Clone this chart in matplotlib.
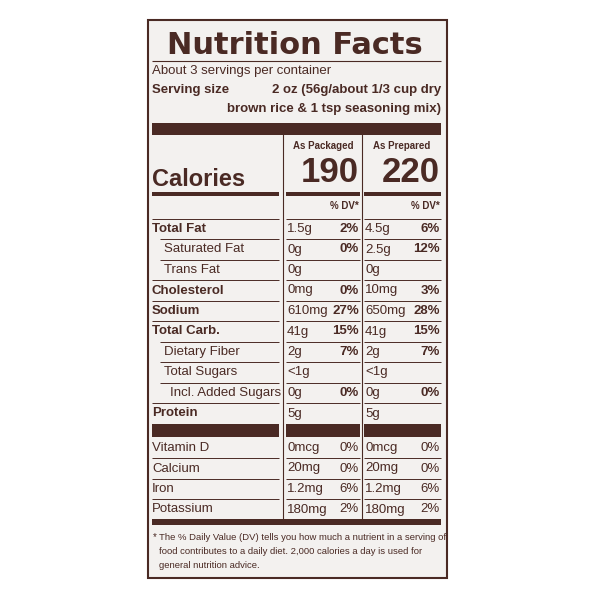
import matplotlib
matplotlib.use("Agg")
import matplotlib.pyplot as plt

BROWN = "#4a2a24"
BG = "#f3f1ef"
FONT = "Liberation Sans"

nutrients = ["Total Fat", "Saturated Fat", "Trans Fat", "Cholesterol", "Sodium", "Total Carb.",
             "Dietary Fiber", "Total Sugars", "Incl. Added Sugars", "Protein"]
bold_rows = [True, False, False, True, True, True, False, False, False, True]
indent = [0, 1, 1, 0, 0, 0, 1, 1, 2, 0]
pack_amt = ["1.5g", "0g", "0g", "0mg", "610mg", "41g", "2g", "<1g", "0g", "5g"]
pack_dv = ["2%", "0%", "", "0%", "27%", "15%", "7%", "", "0%", ""]
prep_amt = ["4.5g", "2.5g", "0g", "10mg", "650mg", "41g", "2g", "<1g", "0g", "5g"]
prep_dv = ["6%", "12%", "", "3%", "28%", "15%", "7%", "", "0%", ""]
vitamins = ["Vitamin D", "Calcium", "Iron", "Potassium"]
vit_pack_amt = ["0mcg", "20mg", "1.2mg", "180mg"]
vit_pack_dv = ["0%", "0%", "6%", "2%"]
vit_prep_amt = ["0mcg", "20mg", "1.2mg", "180mg"]
vit_prep_dv = ["0%", "0%", "6%", "2%"]
calories = ["190", "220"]

fig = plt.figure(figsize=(6, 6), dpi=100)
ax = fig.add_axes([0, 0, 1, 1])
ax.set_xlim(0, 600); ax.set_ylim(600, 0); ax.axis("off")
ax.add_patch(plt.Rectangle((148, 20), 299, 558, facecolor=BG, edgecolor=BROWN, lw=1.5))

def t(x, y, s, size=10, bold=False, ha="left", weight=None, **kw):
    ax.text(x, y, s, fontsize=size, fontweight=weight or ("bold" if bold else "normal"), ha=ha,
            va="center", color=BROWN, family=FONT, **kw)

def hl(y, x0, x1, lw=0.8):
    ax.plot([x0, x1], [y, y], color=BROWN, lw=lw, solid_capstyle="butt")

C1 = (152, 279); C2 = (286, 360); C3 = (364, 441)

ax.text(295, 45, "Nutrition Facts", fontsize=22, fontweight="heavy", ha="center", va="center",
        color=BROWN, family="DejaVu Sans")
hl(61, 152, 441, 0.8)
t(152, 71, "About 3 servings per container", 9.5)
t(152, 90, "Serving size", 9.5, True)
t(441, 90, "2 oz (56g/about 1/3 cup dry", 9.5, True, ha="right")
t(441, 109, "brown rice & 1 tsp seasoning mix)", 9.5, True, ha="right")
ax.add_patch(plt.Rectangle((152, 123), 289, 12, color=BROWN, lw=0))

for x in (283, 362):
    ax.plot([x, x], [135, 519], color=BROWN, lw=0.8)

t(323, 146, "As Packaged", 7, True, ha="center")
t(402, 146, "As Prepared", 7, True, ha="center")
t(152, 179, "Calories", 17, True)
t(359, 173, calories[0], 25, True, ha="right")
t(440, 173, calories[1], 25, True, ha="right")
for (a, b) in (C1, C2, C3):
    ax.add_patch(plt.Rectangle((a, 192), b - a, 4, color=BROWN, lw=0))
t(359, 206, "% DV*", 7, True, ha="right")
t(440, 206, "% DV*", 7, True, ha="right")

y0, dy = 229, 20.5
for i, name in enumerate(nutrients):
    y = y0 + i * dy
    for (a, b) in (C1, C2, C3):
        hl(y - dy / 2, a + (8 * min(indent[i], 1) if a == 152 else 0), b, 0.7)
    t(152 + 12 * indent[i] - (6 if indent[i] == 2 else 0), y, name, 9.5, bold_rows[i])
    t(287, y, pack_amt[i], 9.5)
    t(359, y, pack_dv[i], 9.5, True, ha="right")
    t(365, y, prep_amt[i], 9.5)
    t(440, y, prep_dv[i], 9.5, True, ha="right")

for (a, b) in (C1, C2, C3):
    ax.add_patch(plt.Rectangle((a, 424), b - a, 13, color=BROWN, lw=0))

for i, name in enumerate(vitamins):
    y = 448 + i * 20.5
    if i > 0:
        for (a, b) in (C1, C2, C3):
            hl(y - 10.25, a, b, 0.7)
    t(152, y, name, 9.5)
    t(287, y, vit_pack_amt[i], 9.5)
    t(359, y, vit_pack_dv[i], 9.5, ha="right")
    t(365, y, vit_prep_amt[i], 9.5)
    t(440, y, vit_prep_dv[i], 9.5, ha="right")

ax.add_patch(plt.Rectangle((152, 519), 289, 6, color=BROWN, lw=0))
t(153, 537, "*", 7)
t(159, 537, "The % Daily Value (DV) tells you how much a nutrient in a serving of", 6.8)
t(159, 551, "food contributes to a daily diet. 2,000 calories a day is used for", 6.8)
t(159, 565, "general nutrition advice.", 6.8)

fig.savefig("out.png", dpi=100, facecolor="white")
